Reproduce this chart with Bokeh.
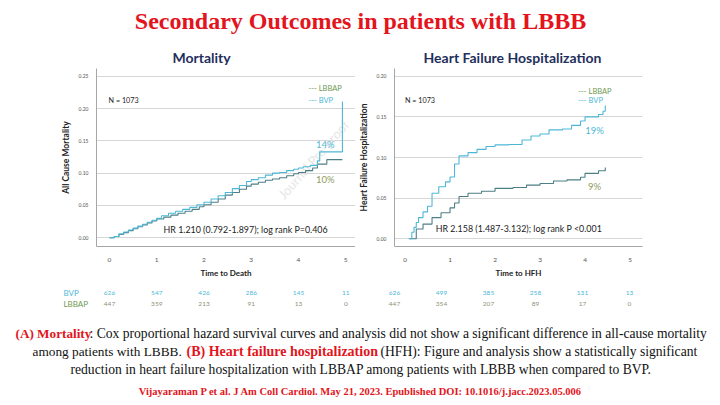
from bokeh.plotting import figure
from bokeh.models import Range1d, FixedTicker
from bokeh.layouts import column, row
from bokeh.embed import file_html
from bokeh.resources import INLINE
from bokeh.core.properties import value

# ---------------- data ----------------
main_title = "Secondary Outcomes in patients with LBBB"
title_a = "Mortality"
title_b = "Heart Failure Hospitalization"

mort_bvp_t = [0.0, 0.1, 0.2, 0.3, 0.4, 0.5, 0.6, 0.7, 0.8, 0.9, 1.0, 1.1, 1.25, 1.4, 1.55, 1.7, 1.85, 2.0,
              2.15, 2.3, 2.45, 2.6, 2.75, 2.9, 3.0, 3.15, 3.3, 3.45, 3.6, 3.75, 3.9, 4.0, 4.1, 4.25, 4.4,
              4.45, 4.93]
mort_bvp_v = [0.000, 0.002, 0.006, 0.009, 0.012, 0.015, 0.018, 0.021, 0.024, 0.027, 0.030, 0.034, 0.038,
              0.041, 0.044, 0.047, 0.051, 0.055, 0.060, 0.065, 0.070, 0.076, 0.081, 0.087, 0.090, 0.093,
              0.097, 0.100, 0.101, 0.104, 0.106, 0.108, 0.110, 0.112, 0.119, 0.133, 0.211]
mort_lbbap_t = [0.0, 0.1, 0.2, 0.3, 0.4, 0.5, 0.6, 0.7, 0.8, 0.9, 1.0, 1.15, 1.3, 1.45, 1.6, 1.75, 1.9, 2.0,
                2.15, 2.3, 2.45, 2.6, 2.75, 2.9, 3.0, 3.15, 3.3, 3.45, 3.6, 3.75, 3.9, 4.0, 4.15, 4.3, 4.4,
                4.6, 4.93]
mort_lbbap_v = [0.000, 0.002, 0.005, 0.008, 0.011, 0.014, 0.017, 0.020, 0.023, 0.026, 0.029, 0.032, 0.035,
                0.038, 0.041, 0.044, 0.048, 0.051, 0.055, 0.060, 0.066, 0.070, 0.075, 0.080, 0.083, 0.086,
                0.089, 0.091, 0.093, 0.096, 0.099, 0.101, 0.104, 0.108, 0.114, 0.121, 0.121]

hfh_bvp_t = [0.08, 0.15, 0.2, 0.25, 0.3, 0.4, 0.5, 0.6, 0.75, 0.9, 1.0, 1.1, 1.2, 1.4, 1.6, 1.8, 2.0, 2.3,
             2.6, 2.8, 3.0, 3.2, 3.5, 3.7, 3.9, 4.0, 4.3, 4.4, 4.45]
hfh_bvp_v = [0.000, 0.008, 0.014, 0.020, 0.026, 0.033, 0.040, 0.056, 0.064, 0.070, 0.076, 0.092, 0.102,
             0.106, 0.110, 0.1135, 0.1155, 0.116, 0.1215, 0.1265, 0.129, 0.134, 0.135, 0.1395, 0.145, 0.150,
             0.153, 0.157, 0.164]
hfh_lbbap_t = [0.1, 0.25, 0.4, 0.6, 0.8, 1.0, 1.1, 1.2, 1.4, 1.7, 2.0, 2.4, 2.7, 3.0, 3.3, 3.6, 3.9, 4.0,
               4.3, 4.45]
hfh_lbbap_v = [0.000, 0.012, 0.018, 0.026, 0.032, 0.038, 0.044, 0.052, 0.056, 0.0585, 0.062, 0.063, 0.066,
               0.068, 0.071, 0.0725, 0.0757, 0.0805, 0.0837, 0.0877]

x_ticks = [0, 1, 2, 3, 4, 5]
mort_y_ticks = [0.0, 0.05, 0.10, 0.15, 0.20, 0.25]
hfh_y_ticks = [0.0, 0.05, 0.10, 0.15, 0.20]

risk_times = [0, 1, 2, 3, 4, 5]
mort_risk_bvp = [626, 547, 426, 286, 145, 11]
mort_risk_lbbap = [447, 359, 213, 91, 13, 0]
hfh_risk_bvp = [626, 499, 385, 258, 131, 13]
hfh_risk_lbbap = [447, 354, 207, 89, 17, 0]

mort_hr = "HR 1.210 (0.792-1.897); log rank P=0.406"
hfh_hr = "HR 2.158 (1.487-3.132); log rank P <0.001"
mort_pct = ["14%", "10%"]
hfh_pct = ["19%", "9%"]

caption_1 = ["(A) Mortality", ": Cox proportional hazard survival curves and analysis did not show a significant difference in all-cause mortality"]
caption_2 = ["among patients with LBBB.", "(B) Heart failure hospitalization", "(HFH): Figure and analysis show a statistically significant"]
caption_3 = "reduction in heart failure hospitalization with LBBAP among patients with LBBB when compared to BVP."
citation = "Vijayaraman P et al. J Am Coll Cardiol. May 21, 2023. Epublished DOI: 10.1016/j.jacc.2023.05.006"

# ---------------- styles ----------------
RED = "#e3141c"
NAVY = "#1f2f5c"
BVP_C = "#4db8d6"
LBBAP_C = "#4c7f86"
LBBAP_TXT = "#6f9a52"
PCT_L = "#8e9c62"
SANS = value("Lato")
SERIF = value("Liberation Serif")


def blank(width, height, xr, yr):
    p = figure(width=width, height=height, x_range=xr, y_range=yr, output_backend="svg",
               toolbar_location=None, min_border=0)
    p.axis.visible = False
    p.grid.visible = False
    p.outline_line_color = None
    p.background_fill_color = "white"
    p.border_fill_color = "white"
    return p


# header (screen-like coordinates, page has no margin)
hdr = blank(720, 68, Range1d(0, 720), Range1d(68, 0))
hdr.text(x=[360], y=[20], text=[main_title], text_font=SERIF, text_font_style="bold",
         text_font_size="24px", text_color=RED, text_align="center", text_baseline="middle")
hdr.text(x=[201, 512], y=[57, 57], text=[title_a, title_b], text_font=SANS, text_font_style="bold",
         text_font_size="14px", text_color=NAVY, text_align="center", text_baseline="middle")


def chart(width, mbl, mbr, xr, yr, yticks, ylabel, xlabel):
    p = figure(width=width, height=212, x_range=xr, y_range=yr, output_backend="svg",
               toolbar_location=None, min_border_left=mbl, min_border_right=mbr,
               min_border_top=0, min_border_bottom=29)
    p.outline_line_color = None
    p.xgrid.visible = False
    p.ygrid.grid_line_color = "#d6d6d6"
    p.ygrid.grid_line_width = 1
    p.ygrid.ticker = FixedTicker(ticks=yticks)
    p.xaxis.ticker = FixedTicker(ticks=x_ticks)
    p.yaxis.ticker = FixedTicker(ticks=yticks)
    p.yaxis.major_label_overrides = {t: f"{t:.2f}" for t in yticks}
    for ax in (p.xaxis, p.yaxis):
        ax.axis_line_color = "#a6a6a6"
        ax.major_tick_line_color = None
        ax.minor_tick_line_color = None
        ax.major_label_text_font = "Lato"
        ax.major_label_text_color = "#555555"
        ax.axis_label_text_font = "Lato"
        ax.axis_label_text_font_style = "bold"
        ax.axis_label_text_color = "#222222"
    p.xaxis.major_label_text_font_size = "6.5px"
    p.xaxis.major_label_standoff = 5
    p.xaxis.axis_label = xlabel
    p.xaxis.axis_label_text_font_size = "8px"
    p.xaxis.axis_label_standoff = 3
    p.yaxis.major_label_text_font_size = "5px"
    p.yaxis.major_label_standoff = 2
    p.yaxis.axis_label = ylabel
    p.yaxis.axis_label_text_font_size = "8.5px"
    p.yaxis.axis_label_standoff = 5
    return p


# left chart (Mortality): t=0 at px 109, 47.25 px/unit, frame 96..355
left = chart(355, 96, 0, Range1d(-0.275, 5.207), Range1d(-0.01355, 0.26205), mort_y_ticks,
             "All Cause Mortality", "Time to Death")
left.text(x=[3.62], y=[0.063], text=["Journal Pre-proof"], angle=0.85, text_font=SANS,
          text_font_size="13px", text_color="#e6e6e6", text_baseline="middle")
left.step(mort_lbbap_t, mort_lbbap_v, mode="after", line_color=LBBAP_C, line_width=1.1)
left.step(mort_bvp_t, mort_bvp_v, mode="after", line_color=BVP_C, line_width=1.1)
left.text(x=[4.21], y=[0.2304], text=["--- LBBAP"], text_font=SANS, text_font_size="7.5px",
          text_color=LBBAP_TXT, text_baseline="middle")
left.text(x=[4.21], y=[0.2123], text=["--- BVP"], text_font=SANS, text_font_size="7.5px",
          text_color=BVP_C, text_baseline="middle")
left.text(x=[-0.02], y=[0.2123], text=["N = 1073"], text_font=SANS, text_font_size="7.2px",
          text_color="#222222", text_baseline="middle")
left.text(x=[4.57], y=[0.1446], text=[mort_pct[0]], text_font=SANS, text_font_size="9.5px",
          text_color=BVP_C, text_align="center", text_baseline="middle")
left.text(x=[4.57], y=[0.0904], text=[mort_pct[1]], text_font=SANS, text_font_size="9.5px",
          text_color=PCT_L, text_align="center", text_baseline="middle")
left.text(x=[2.88], y=[0.012], text=[mort_hr], text_font=SANS, text_font_size="8.9px",
          text_color="#222222", text_align="center", text_baseline="middle")

# right chart (HFH): t=0 at px 394, 47 px/unit, frame 383..642
right = chart(365, 28, 78, Range1d(-0.234, 5.277), Range1d(-0.00958, 0.20958), hfh_y_ticks,
              "Heart Failure Hospitalization", "Time to HFH")
right.step(hfh_lbbap_t, hfh_lbbap_v, mode="after", line_color=LBBAP_C, line_width=1.1)
right.step(hfh_bvp_t, hfh_bvp_v, mode="after", line_color=BVP_C, line_width=1.1)
right.text(x=[3.85], y=[0.1808], text=["--- LBBAP"], text_font=SANS, text_font_size="7.5px",
           text_color=LBBAP_TXT, text_baseline="middle")
right.text(x=[3.85], y=[0.170], text=["--- BVP"], text_font=SANS, text_font_size="7.5px",
           text_color=BVP_C, text_baseline="middle")
right.text(x=[0.0], y=[0.170], text=["N = 1073"], text_font=SANS, text_font_size="7.2px",
           text_color="#222222", text_baseline="middle")
right.text(x=[4.21], y=[0.1329], text=[hfh_pct[0]], text_font=SANS, text_font_size="9.5px",
           text_color=BVP_C, text_align="center", text_baseline="middle")
right.text(x=[4.21], y=[0.0647], text=[hfh_pct[1]], text_font=SANS, text_font_size="9.5px",
           text_color=PCT_L, text_align="center", text_baseline="middle")
right.text(x=[2.53], y=[0.012], text=[hfh_hr], text_font=SANS, text_font_size="8.9px",
           text_color="#222222", text_align="center", text_baseline="middle")

# risk tables (same horizontal scale as the charts)
rl = blank(355, 30, Range1d(-2.307, 5.206), Range1d(310, 280))
rl.text(x=[-0.974], y=[292], text=["BVP"], text_font=SANS, text_font_size="8px",
        text_color=BVP_C, text_baseline="middle")
rl.text(x=[-0.974], y=[303], text=["LBBAP"], text_font=SANS, text_font_size="8px",
        text_color=LBBAP_TXT, text_baseline="middle")
rl.text(x=risk_times, y=[292] * 6, text=[str(v) for v in mort_risk_bvp], text_font=SANS,
        text_font_size="6.5px", text_color=BVP_C, text_align="center", text_baseline="middle")
rl.text(x=risk_times, y=[303] * 6, text=[str(v) for v in mort_risk_lbbap], text_font=SANS,
        text_font_size="6.5px", text_color="#8a9478", text_align="center", text_baseline="middle")

rr = blank(365, 30, Range1d(-0.830, 6.936), Range1d(310, 280))
rr.text(x=risk_times, y=[292] * 6, text=[str(v) for v in hfh_risk_bvp], text_font=SANS,
        text_font_size="6.5px", text_color=BVP_C, text_align="center", text_baseline="middle")
rr.text(x=risk_times, y=[303] * 6, text=[str(v) for v in hfh_risk_lbbap], text_font=SANS,
        text_font_size="6.5px", text_color="#8a9478", text_align="center", text_baseline="middle")

# caption
cap = blank(720, 95, Range1d(0, 720), Range1d(405, 310))
BS = "13.6px"
cap.text(x=[15], y=[333], text=[caption_1[0]], text_font=SERIF, text_font_style="bold",
         text_font_size="13.2px", text_color=RED, text_baseline="middle")
cap.text(x=[89], y=[333], text=[caption_1[1]], text_font=SERIF, text_font_size=BS,
         text_color="#111111", text_baseline="middle")
cap.text(x=[32], y=[351], text=[caption_2[0]], text_font=SERIF, text_font_size="13.3px",
         text_color="#111111", text_baseline="middle")
cap.text(x=[186], y=[351], text=[caption_2[1]], text_font=SERIF, text_font_style="bold",
         text_font_size="14px", text_color=RED, text_baseline="middle")
cap.text(x=[380], y=[351], text=[caption_2[2]], text_font=SERIF, text_font_size="13.6px",
         text_color="#111111", text_baseline="middle")
cap.text(x=[360.5], y=[369], text=[caption_3], text_font=SERIF, text_font_size="13.6px",
         text_color="#111111", text_align="center", text_baseline="middle")
cap.text(x=[360], y=[391], text=[citation], text_font=SERIF, text_font_style="bold",
         text_font_size="10.5px", text_color=RED, text_align="center", text_baseline="middle")

layout = column(hdr, row(left, right), row(rl, rr), cap)
open("out.html", "w").write(file_html(layout, INLINE))
